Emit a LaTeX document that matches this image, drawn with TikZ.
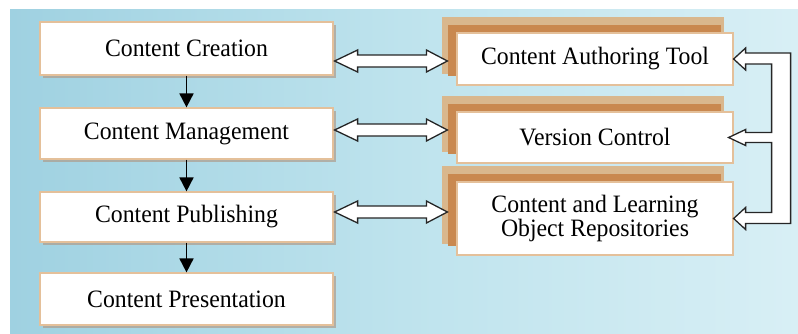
\documentclass[tikz,border=0pt]{standalone}
\usepackage{fontspec}
\setmainfont{Liberation Serif}[FakeStretch=0.95]
\usetikzlibrary{arrows.meta,calc}
\definecolor{bgdark}{HTML}{9FD1E1}
\definecolor{bgmid}{HTML}{BEE3ED}
\definecolor{bglight}{HTML}{D8EFF5}
\definecolor{boxedge}{HTML}{E4C09A}
\definecolor{shadowgray}{HTML}{AE9C8C}
\definecolor{layerlight}{HTML}{D9B78D}
\definecolor{layerdark}{HTML}{C9884F}
\tikzset{
  leftbox/.style={draw=boxedge, line width=1.2pt, fill=white, minimum width=293pt, minimum height=52pt, inner sep=0pt, font=\fontsize{25}{27}\selectfont},
  rightbox/.style={draw=boxedge, line width=1.2pt, fill=white, minimum width=276pt, inner sep=0pt, align=center, font=\fontsize{25}{25}\selectfont},
  downarrow/.style={line width=1.8pt, -{Triangle[width=14pt,length=14pt]}},
  hollow/.style={draw=black!85, line width=1.3pt, fill=white, line join=miter},
}
\begin{document}
\begin{tikzpicture}[x=1pt,y=-1pt]
\useasboundingbox (0,0) rectangle (798,333);
\fill[white] (0,0) rectangle (798,333);
% background
\shade[shading=axis, shading angle=70, left color=bgdark, right color=bglight, middle color=bgmid] (10,9) rectangle (798,333);

% left boxes shadows and boxes
\foreach \yy/\hh in {48.5/53,133.5/51,217/50,299/52}{
  \fill[shadowgray,opacity=0.7] (43,\yy-\hh/2+3) rectangle (336,\yy+\hh/2+3);
}
\node[leftbox, minimum height=53pt] (cc) at (186.5,48.5) {Content Creation};
\node[leftbox, minimum height=51pt] (cm) at (186.5,133.5) {Content Management};
\node[leftbox, minimum height=50pt] (cp) at (186.5,217) {Content Publishing};
\node[leftbox, minimum height=52pt] (cpr) at (186.5,299) {Content Presentation};

% right box layers
\foreach \yy/\hh in {59/52,137.5/51,218.5/73}{
  \fill[layerlight] (442,\yy-\hh/2-16) rectangle (724,\yy+\hh/2-11);
  \fill[layerdark] (448,\yy-\hh/2-8) rectangle (721,\yy+\hh/2-9);
}
\node[rightbox, minimum height=52pt] (cat) at (595,59) {Content Authoring Tool};
\node[rightbox, minimum height=51pt] (vc) at (595,137.5) {Version Control};
\node[rightbox, minimum height=73pt] (clo) at (595,218.5) {Content and Learning\\[-1pt]Object Repositories};

% down arrows
\draw[downarrow] (cc.south) -- (cm.north);
\draw[downarrow] (cm.south) -- (cp.north);
\draw[downarrow] (cp.south) -- (cpr.north);

% hollow double arrows
\newcommand\hollowdouble[3]{%
  \path[hollow] let \p1=(#1.east), \p2=(#2.west) in
    (\x1+1pt,#3) -- (\x1+24pt,#3+11pt) -- (\x1+24pt,#3+6pt) -- (\x2-30pt,#3+6pt) -- (\x2-30pt,#3+11pt)
    -- (\x2-9pt,#3) -- (\x2-30pt,#3-11pt) -- (\x2-30pt,#3-6pt) -- (\x1+24pt,#3-6pt) -- (\x1+24pt,#3-11pt) -- cycle;}
\hollowdouble{cc}{cat}{-61pt}
\hollowdouble{cm}{vc}{-130pt}
\hollowdouble{cp}{clo}{-212pt}

% right bracket
\path[hollow] let \p1=(cat.east), \p2=(vc.east), \p3=(clo.east) in
  (\x1,\y1) -- (\x1+12pt,\y1+11pt) -- (\x1+12pt,\y1+6pt) -- (\x1+57pt,\y1+6pt)
  -- (\x1+57pt,\y3-5pt) -- (\x1+12pt,\y3-5pt) -- (\x1+12pt,\y3-11pt) -- (\x3,\y3) -- (\x3+12pt,\y3+11pt)
  -- (\x3+12pt,\y3+6pt) -- (\x3+38pt,\y3+6pt) -- (\x3+38pt,\y2-5pt) -- (\x2+12pt,\y2-5pt) -- (\x2+12pt,\y2-8pt)
  -- (\x2-5pt,\y2) -- (\x2+12pt,\y2+8pt) -- (\x2+12pt,\y2+5pt) -- (\x1+38pt,\y2+5pt) -- (\x1+38pt,\y1-5pt)
  -- (\x1+12pt,\y1-5pt) -- (\x1+12pt,\y1-11pt) -- cycle;
\end{tikzpicture}
\end{document}
